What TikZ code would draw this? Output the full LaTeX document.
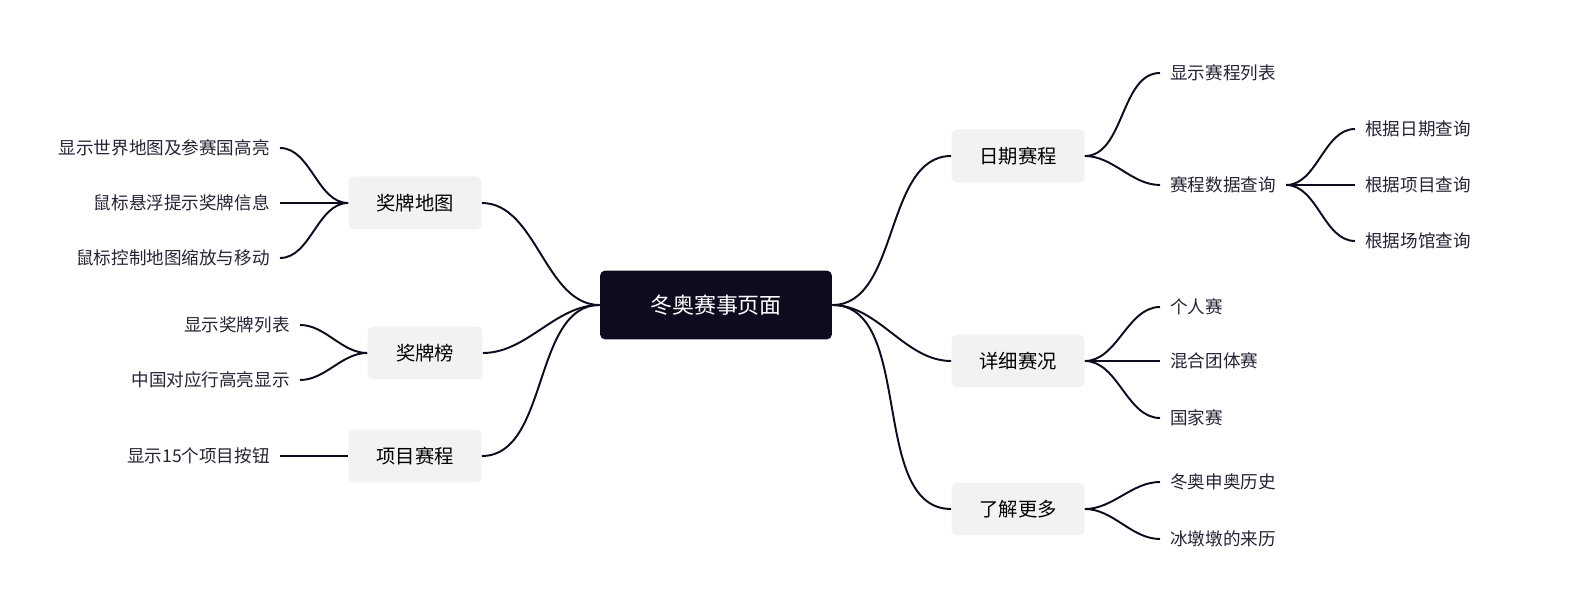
\documentclass[tikz,border=0pt]{standalone}
\usepackage{fontspec}
\setmainfont{Noto Sans CJK SC}
\usetikzlibrary{positioning}
\definecolor{ink}{HTML}{0D0B1E}
\definecolor{pale}{HTML}{F2F2F2}

\begin{document}
\begin{tikzpicture}[
    x=0.02cm, y=-0.02cm,
    root/.style={rectangle, fill=ink, text=white, rounded corners=3pt, minimum width=4.64cm, minimum height=1.38cm, font=\fontsize{12.5}{14}\selectfont},
    topic/.style={rectangle, fill=pale, rounded corners=3pt, minimum width=2.66cm, minimum height=1.06cm, font=\fontsize{11}{13}\selectfont},
    leaf/.style={inner xsep=0.2cm, inner ysep=2pt, font=\fontsize{10}{12}\selectfont, text=ink!90},
    link/.style={draw=ink, line width=1.1pt},
    curve/.style={link, out=0, in=180, looseness=0.9},
    lcurve/.style={link, out=180, in=0, looseness=0.9}
]
\useasboundingbox (0,0) rectangle (1580,614);

% Nodes
\node[root] (root) at (716,305) {冬奥赛事页面};

\node[topic] (date) at (1018,156) {日期赛程};
\node[topic] (detail) at (1018,361) {详细赛况};
\node[topic] (more) at (1018,509) {了解更多};
\node[topic] (map) at (415,203) {奖牌地图};
\node[topic, minimum width=2.3cm] (rank) at (425,353) {奖牌榜};
\node[topic] (event) at (415,456) {项目赛程};

\node[leaf, anchor=west] (list) at (1160,73) {显示赛程列表};
\node[leaf, anchor=west] (query) at (1160,185) {赛程数据查询};
\node[leaf, anchor=west] (qdate) at (1355,129) {根据日期查询};
\node[leaf, anchor=west] (qitem) at (1355,185) {根据项目查询};
\node[leaf, anchor=west] (qhall) at (1355,241) {根据场馆查询};

\node[leaf, anchor=west] (single) at (1160,307) {个人赛};
\node[leaf, anchor=west] (team) at (1160,361) {混合团体赛};
\node[leaf, anchor=west] (nation) at (1160,418) {国家赛};

\node[leaf, anchor=west] (bid) at (1160,482) {冬奥申奥历史};
\node[leaf, anchor=west] (mascot) at (1160,539) {冰墩墩的来历};

\node[leaf, anchor=east] (world) at (280,148) {显示世界地图及参赛国高亮};
\node[leaf, anchor=east] (hover) at (280,203) {鼠标悬浮提示奖牌信息};
\node[leaf, anchor=east] (zoom) at (280,258) {鼠标控制地图缩放与移动};

\node[leaf, anchor=east] (mlist) at (300,325) {显示奖牌列表};
\node[leaf, anchor=east] (china) at (300,380) {中国对应行高亮显示};

\node[leaf, anchor=east] (btn) at (280,456) {显示15个项目按钮};

% Arrows
\draw[curve] (root.east) to (date.west);
\draw[curve] (root.east) to (detail.west);
\draw[curve] (root.east) to (more.west);
\draw[lcurve] (root.west) to (map.east);
\draw[lcurve] (root.west) to (rank.east);
\draw[lcurve] (root.west) to (event.east);

\draw[curve] (date.east) to (list.west);
\draw[curve] (date.east) to (query.west);
\draw[curve] (query.east) to (qdate.west);
\draw[curve] (query.east) to (qitem.west);
\draw[curve] (query.east) to (qhall.west);

\draw[curve] (detail.east) to (single.west);
\draw[curve] (detail.east) to (team.west);
\draw[curve] (detail.east) to (nation.west);

\draw[curve] (more.east) to (bid.west);
\draw[curve] (more.east) to (mascot.west);

\draw[lcurve] (map.west) to (world.east);
\draw[lcurve] (map.west) to (hover.east);
\draw[lcurve] (map.west) to (zoom.east);

\draw[lcurve] (rank.west) to (mlist.east);
\draw[lcurve] (rank.west) to (china.east);

\draw[lcurve] (event.west) to (btn.east);

\end{tikzpicture}
\end{document}
